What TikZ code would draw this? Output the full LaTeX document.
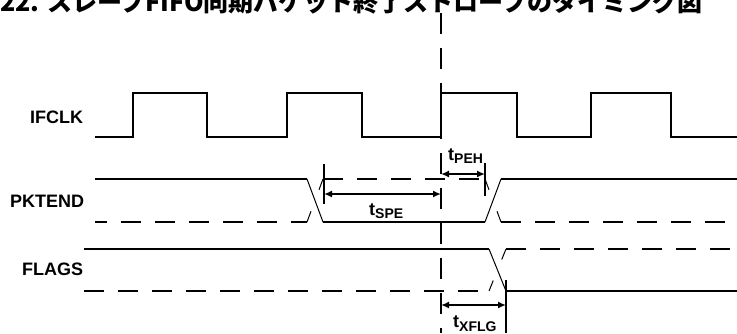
\documentclass[tikz,border=0pt]{standalone}
\usepackage{fontspec}
\setmainfont{Liberation Sans}
\newfontfamily\cjk{Noto Sans CJK JP}
\usetikzlibrary{arrows.meta,calc}
\begin{document}
\begin{tikzpicture}[x=1pt,y=-1pt,
 wave/.style={line width=2pt},
 dwave/.style={line width=2pt, dash pattern=on 20pt off 14pt},
 edgeline/.style={line width=1pt},
 tickline/.style={line width=2pt},
 dim/.style={line width=2pt, {Latex[length=8pt,width=7pt]}-{Latex[length=8pt,width=7pt]}},
 lbl/.style={font=\fontsize{18}{20}\selectfont\bfseries, anchor=base west, inner sep=0pt},
 sublbl/.style={font=\fontsize{18}{20}\selectfont\bfseries, anchor=base west, inner sep=0pt},
]
\useasboundingbox (0,0) rectangle (737,333);

% title (cut at top, as in the reference)
\node[anchor=base west, inner sep=0pt, font=\cjk\bfseries\fontsize{25}{27}\selectfont] (title) at (0,11.7) {22. スレーブFIFO同期パケット終了ストローブのタイミング図};

% signal labels
\node[lbl] (lifclk) at (30,123) {IFCLK};
\node[lbl] (lpkt) at (10,207) {PKTEND};
\node[lbl] (lflags) at (22,275) {FLAGS};

% IFCLK
\draw[wave] (95,137) -- (133,137) -- (133,93) -- (207,93) -- (207,137) -- (287,137) -- (287,93) -- (362,93) -- (362,137) -- (441,137) -- (441,93) -- (517,93) -- (517,137) -- (591,137) -- (591,93) -- (671,93) -- (671,137) -- (737,137);

% PKTEND
\coordinate (p1h) at (307,179);
\coordinate (p1l) at (307,222);
\coordinate (p2h) at (323,179);
\coordinate (p2l) at (323,222);
\coordinate (p3h) at (485,179);
\coordinate (p3l) at (485,222);
\coordinate (p4h) at (501,179);
\coordinate (p4l) at (501,222);
\draw[wave] (95,179) -- (p1h);
\draw[edgeline] (p1h) -- (p2l);
\draw[wave] (p2l) -- (p3l);
\draw[edgeline] (p3l) -- (p4h);
\draw[wave] (p4h) -- (737,179);
\draw[dwave, dash phase=8pt] (95,222) -- (p1l);
\draw[edgeline] (p1l) -- ($(p1l)!0.25!(p2h)$) ($(p1l)!0.75!(p2h)$) -- (p2h);
\draw[dwave] (p2h) -- (p3h);
\draw[edgeline] (p3h) -- ($(p3h)!0.25!(p4l)$) ($(p3h)!0.75!(p4l)$) -- (p4l);
\draw[dwave] (p4l) -- (737,222);

% FLAGS
\coordinate (f1h) at (489,249);
\coordinate (f1l) at (489,291);
\coordinate (f2h) at (506,249);
\coordinate (f2l) at (506,291);
\draw[wave] (84,249) -- (f1h);
\draw[edgeline] (f1h) -- (f2l);
\draw[wave] (f2l) -- (737,291);
\draw[dwave] (84,291) -- (f1l);
\draw[edgeline] (f1l) -- ($(f1l)!0.25!(f2h)$) ($(f1l)!0.75!(f2h)$) -- (f2h);
\draw[dwave] (f2h) -- (737,249);

% reference dashed vertical line
\coordinate (vtop) at (441,13);
\coordinate (vbot) at (441,333);
\draw[line width=2pt, dash pattern=on 21pt off 14pt] (vtop) -- (vbot);

% tSPE
\coordinate (tspeA) at (324,194);
\coordinate (tspeB) at (441,194);
\draw[tickline] (324,164) -- (324,204);
\draw[dim] (tspeA) -- (tspeB);
\node[sublbl] (tspe) at (369,215) {t\raisebox{-3pt}{\fontsize{14}{16}\selectfont SPE}};

% tPEH
\coordinate (tpehA) at (441,174);
\coordinate (tpehB) at (485,174);
\draw[tickline] (485,163) -- (485,196);
\draw[dim] (tpehA) -- (tpehB);
\node[sublbl] (tpeh) at (448,160) {t\raisebox{-3pt}{\fontsize{14}{16}\selectfont PEH}};

% tXFLG
\coordinate (txA) at (441,305);
\coordinate (txB) at (506,305);
\draw[tickline] (506,280) -- (506,333);
\draw[dim] (txA) -- (txB);
\node[sublbl] (txflg) at (453,327) {t\raisebox{-4pt}{\fontsize{14}{16}\selectfont XFLG}};
\end{tikzpicture}
\end{document}
